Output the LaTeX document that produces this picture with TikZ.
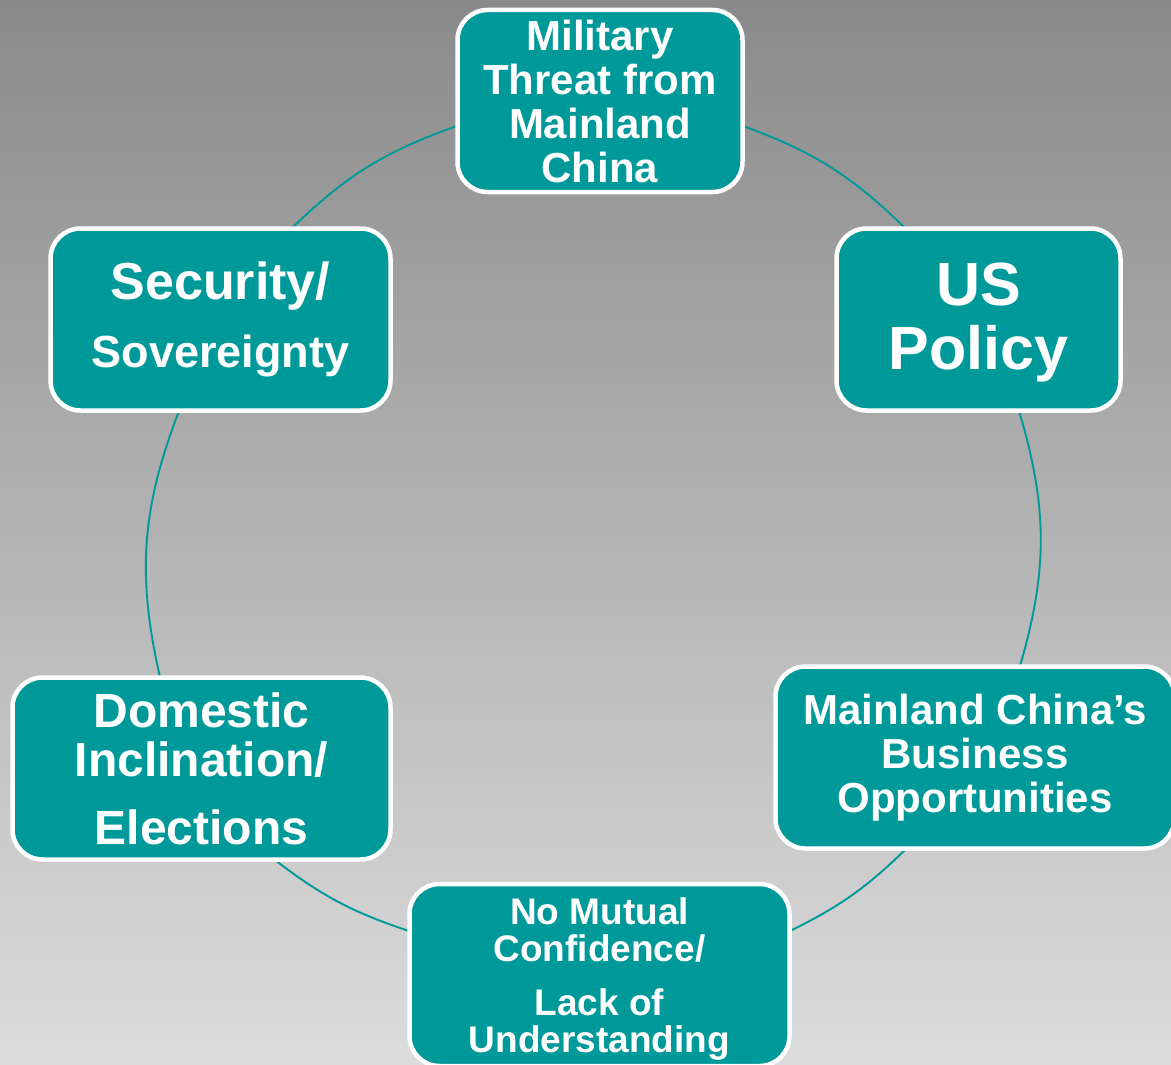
\documentclass[tikz,border=0pt]{standalone}
\usepackage{fontspec}
\setmainfont{Liberation Sans}
\definecolor{teal1}{RGB}{0,153,153}
\definecolor{bgtop}{RGB}{138,138,138}
\definecolor{bgbot}{RGB}{220,220,220}
\newcommand{\fsz}[2]{\fontsize{#1}{#2}\selectfont}
\begin{document}
\begin{tikzpicture}[x=1pt,y=-1pt,
  box/.style={draw=white,line width=4.5pt,fill=teal1,rounded corners=30pt,
    text=white,align=center,inner sep=0pt},
  lbl/.style={text=white,align=center,inner sep=0pt},
  ring/.style={draw=teal1,line width=1.9pt}]
\useasboundingbox (0,0) rectangle (1171,1065);
\shade[top color=bgtop,bottom color=bgbot] (0,0) rectangle (1171,1065);
% arc end points on the box borders
\coordinate (a1) at (293,227);
\coordinate (a2) at (457,126);
\coordinate (b1) at (743,126);
\coordinate (b2) at (905,228);
\coordinate (c1) at (1019,411);
\coordinate (c2) at (1020,666);
\coordinate (d1) at (906,849);
\coordinate (d2) at (790,931);
\coordinate (e1) at (409,931);
\coordinate (e2) at (275,860);
\coordinate (f1) at (160,677);
\coordinate (f2) at (179,411);
\draw[ring] (a1) to[bend left=12.3] (a2);
\draw[ring] (b1) to[bend left=12.2] (b2);
\draw[ring] (c1) to[bend left=16.5] (c2);
\draw[ring] (d1) to[bend left=9] (d2);
\draw[ring] (e1) to[bend left=9.6] (e2);
\draw[ring] (f1) to[bend left=17] (f2);
\node[box,minimum width=285pt,minimum height=182pt,font=\bfseries\fsz{42}{44}] (mil) at (600,101)
  {Military\\Threat from\\Mainland\\China};
\node[box,minimum width=340pt,minimum height=182pt,font=\bfseries\fsz{52}{60}] (sec) at (220.5,319.5)
  {Security/\\[8pt]\fsz{45}{48}Sovereignty};
\node[box,minimum width=284pt,minimum height=182pt,
  label={[lbl,font=\bfseries\fsz{61}{64},yshift=-3.5pt]center:US\\Policy}] (us) at (978.5,319.5) {};
\node[box,minimum width=399pt,minimum height=182pt,font=\bfseries\fsz{42}{44}] (biz) at (975,757.5)
  {Mainland China’s\\Business\\Opportunities};
\node[box,minimum width=378pt,minimum height=182pt,font=\bfseries\fsz{48}{49}] (dom) at (201.5,768.5)
  {Domestic\\Inclination/\\[19pt]Elections};
\node[box,minimum width=380pt,minimum height=182pt,
  label={[lbl,font=\bfseries\fsz{37}{37},yshift=-4pt]center:No Mutual\\Confidence/\\[17pt]Lack of\\Understanding}] (nmc) at (599.5,975) {};
\end{tikzpicture}
\end{document}
